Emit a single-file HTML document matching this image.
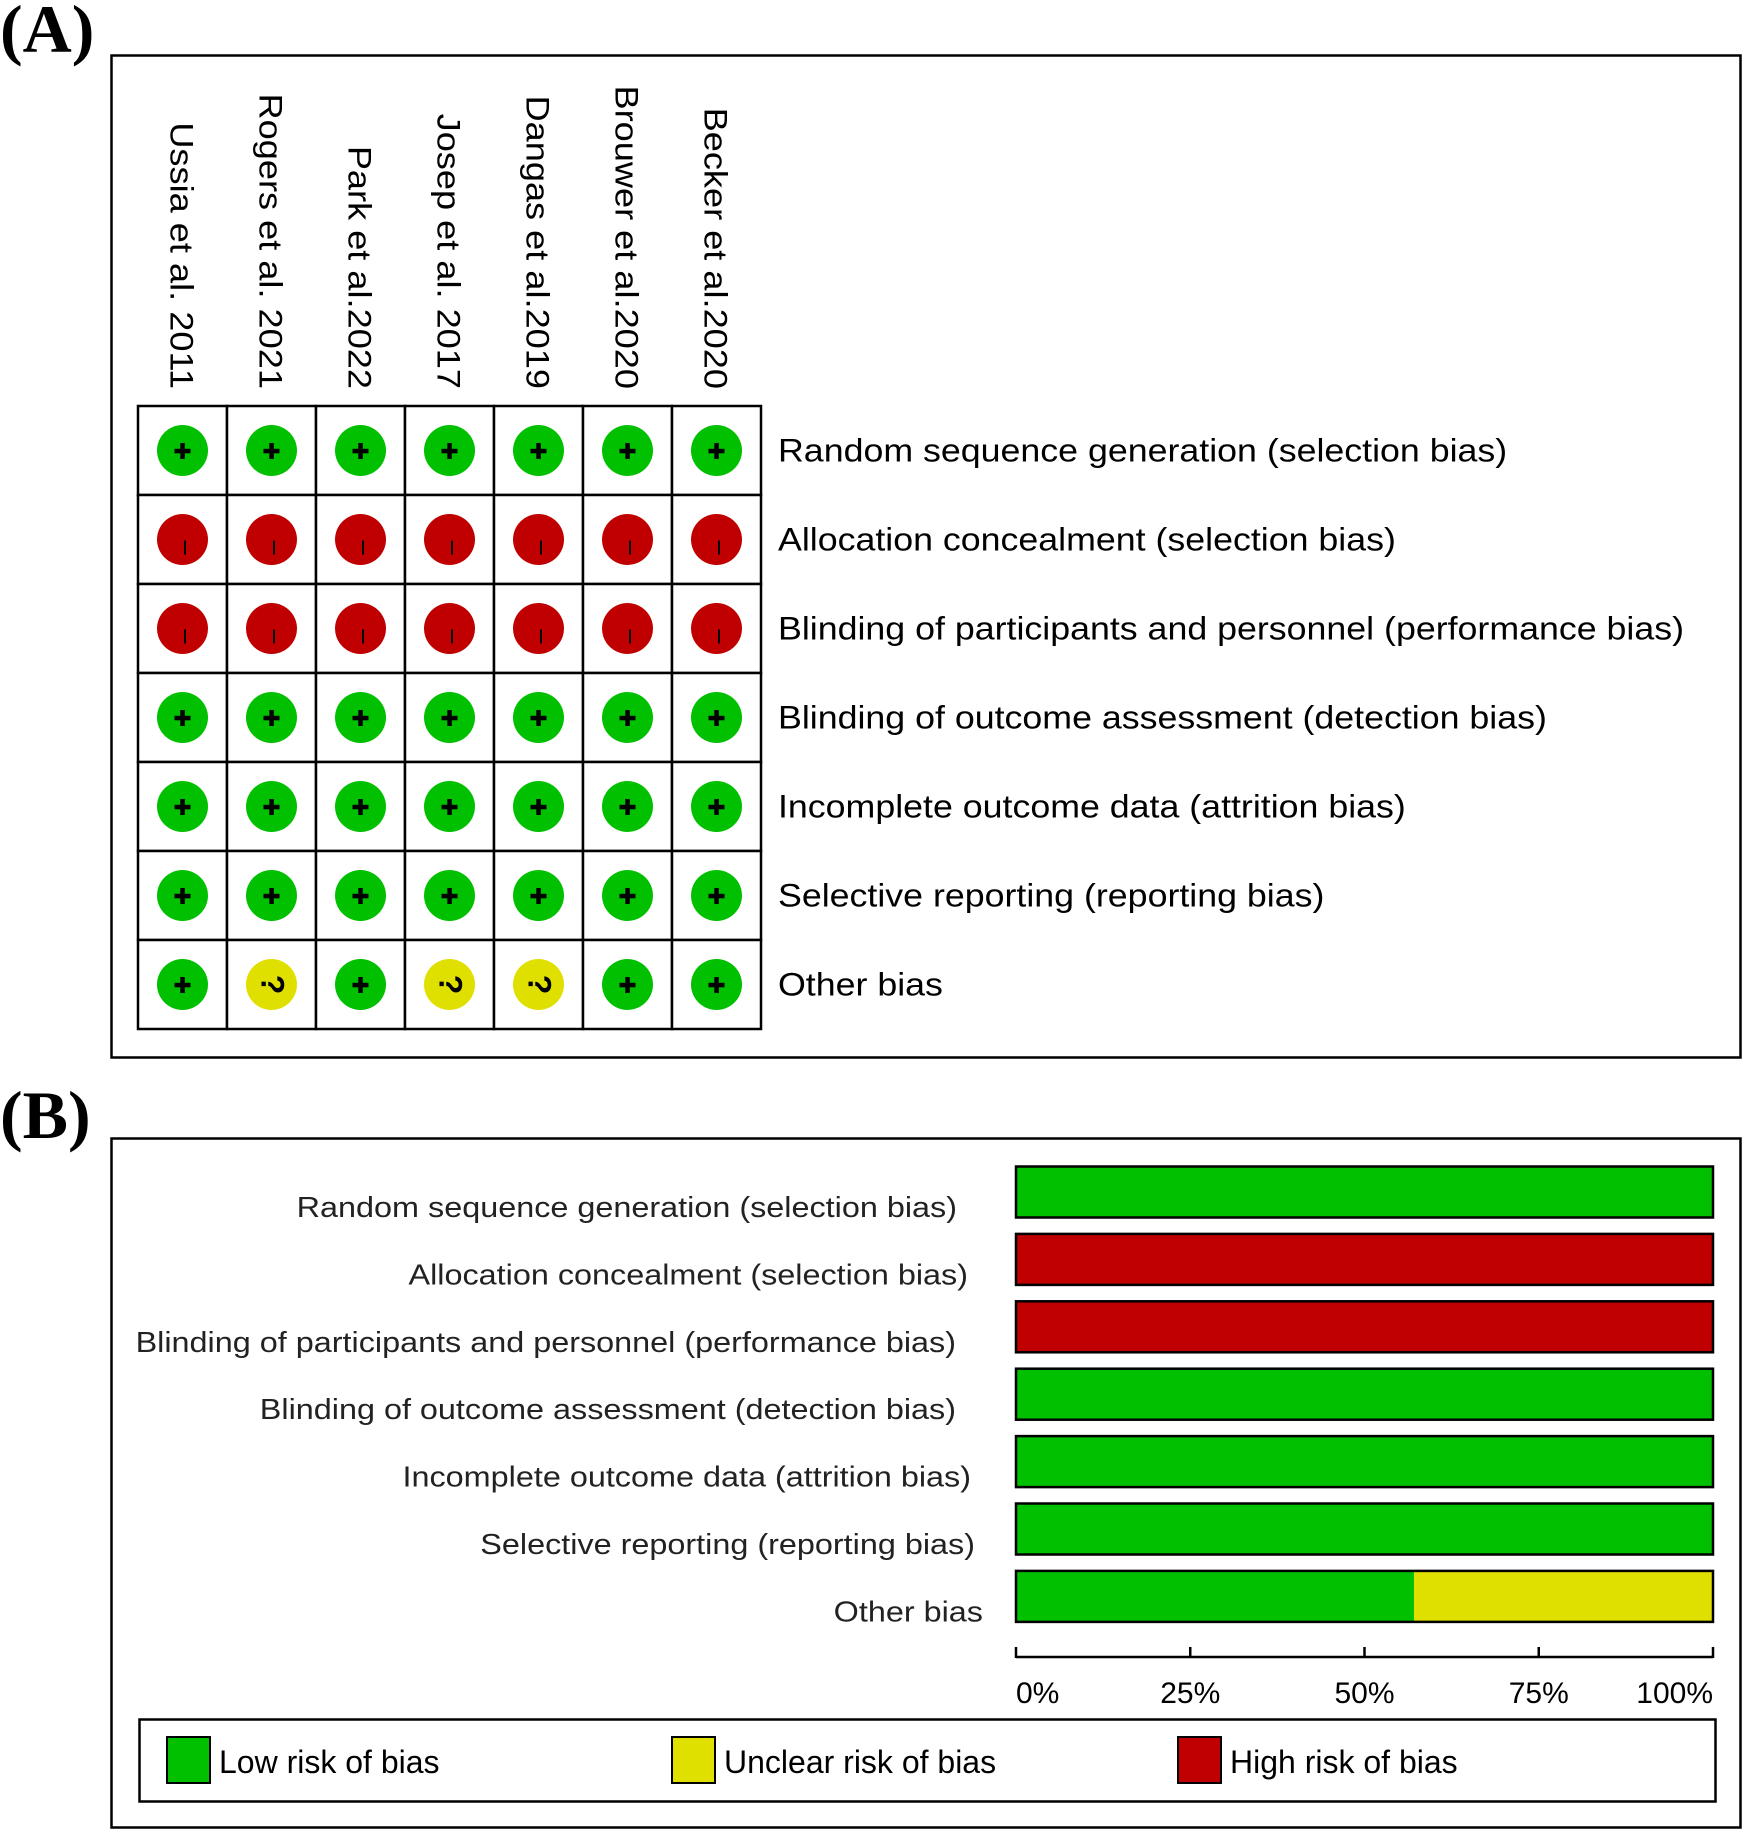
<!DOCTYPE html>
<html><head><meta charset="utf-8"><style>
html,body{margin:0;padding:0;background:#fff;}
svg{display:block;font-family:"Liberation Sans",sans-serif;}
</style></head><body>
<svg id="fig" width="1749" height="1833" viewBox="0 0 1749 1833" xmlns="http://www.w3.org/2000/svg">
<text x="0" y="52" font-family="Liberation Serif, serif" font-weight="bold" font-size="68">(A)</text>
<rect x="111.5" y="55.5" width="1629" height="1002" fill="none" stroke="#000" stroke-width="2.5"/>
<g id="gA"></g>
<text x="0" y="1138" font-family="Liberation Serif, serif" font-weight="bold" font-size="68">(B)</text>
<rect x="111.5" y="1138.5" width="1629" height="689" fill="none" stroke="#000" stroke-width="2.5"/>
<g id="gB"></g>
<rect x="139.5" y="1719.5" width="1576" height="82" fill="none" stroke="#000" stroke-width="2.5"/>
<rect x="167" y="1737" width="43" height="46" fill="#00c000" stroke="#000" stroke-width="2"/>
<text x="219" y="1773" font-size="32">Low risk of bias</text>
<rect x="672" y="1737" width="43" height="46" fill="#e0e000" stroke="#000" stroke-width="2"/>
<text x="724" y="1773" font-size="32">Unclear risk of bias</text>
<rect x="1178" y="1737" width="43" height="46" fill="#c00000" stroke="#000" stroke-width="2"/>
<text x="1230" y="1773" font-size="32">High risk of bias</text>
</svg>
<script>
const studies = ["Ussia et al. 2011","Rogers et al. 2021","Park et al.2022","Josep et al. 2017","Dangas et al.2019","Brouwer et al.2020","Becker et al.2020"];
const domains = ["Random sequence generation (selection bias)","Allocation concealment (selection bias)","Blinding of participants and personnel (performance bias)","Blinding of outcome assessment (detection bias)","Incomplete outcome data (attrition bias)","Selective reporting (reporting bias)","Other bias"];
const judgments = [
 ["+","+","+","+","+","+","+"],
 ["-","-","-","-","-","-","-"],
 ["-","-","-","-","-","-","-"],
 ["+","+","+","+","+","+","+"],
 ["+","+","+","+","+","+","+"],
 ["+","+","+","+","+","+","+"],
 ["+","?","+","?","?","+","+"]
];
const lowPct = [100,0,0,100,100,100,57.1];
const unclearPct = [0,0,0,0,0,0,42.9];
const highPct = [0,100,100,0,0,0,0];
const ticks = [0,25,50,75,100];
const tickLabels = ["0%","25%","50%","75%","100%"];
const labelRight = [957,968,956,956,971,975,983];

const NS="http://www.w3.org/2000/svg";
function mk(tag,attrs,parent,txt){const e=document.createElementNS(NS,tag);for(const k in attrs)e.setAttribute(k,attrs[k]);if(txt!==undefined)e.textContent=txt;parent.appendChild(e);return e;}
function widen(t,f){const w=t.getComputedTextLength();t.setAttribute('textLength',(w*f).toFixed(1));t.setAttribute('lengthAdjust','spacingAndGlyphs');}
const gA=document.getElementById('gA'), gB=document.getElementById('gB');
const gx0=138, gy0=406, cell=89;
const colX=i=>gx0+cell*i+cell/2, rowY=j=>gy0+cell*j+cell/2;
const col={"+":"#00c000","-":"#c00000","?":"#e0e000"};
studies.forEach((s,i)=>{
  const t=mk('text',{x:0,y:0,'font-size':32,'text-anchor':'end',transform:`translate(${colX(i)-12},389) rotate(90)`},gA,s);
  
  
  widen(t,1.13);
});
judgments.forEach((row,j)=>{
  row.forEach((v,i)=>{
    const cx=colX(i), cy=rowY(j);
    const r=mk('rect',{x:gx0+cell*i,y:gy0+cell*j,width:cell,height:cell,fill:'#fff',stroke:'#000','stroke-width':2.5},gA);
    
    
    const c=mk('circle',{cx:cx,cy:cy,r:25.5,fill:col[v]},gA);
    
    
    if(v==="+"){
      mk('rect',{x:cx-8,y:cy-1.7,width:16,height:4.5,fill:'#000'},gA);
      mk('rect',{x:cx-2.2,y:cy-7.5,width:4.5,height:16,fill:'#000'},gA);
    }else if(v==="-"){
      mk('rect',{x:cx+1.5,y:cy+1,width:2,height:14,fill:'#000'},gA);
    }else{
      mk('text',{x:0,y:0,'font-size':32,'font-weight':'bold','text-anchor':'middle',transform:`translate(${cx-10},${cy}) rotate(90)`},gA,"?");
    }
  });
});
domains.forEach((d,j)=>{
  const t=mk('text',{x:778,y:rowY(j)+11,'font-size':32},gA,d);
  
  
  widen(t,1.117);
});
// Panel B
const bx0=1016, bx1=1713, xs=p=>bx0+(bx1-bx0)*p/100;
const by0=1192, bpitch=67.4, bh=51, barY=j=>by0+bpitch*j;
domains.forEach((d,j)=>{
  const y=barY(j)-bh/2;
  let acc=0;
  [[lowPct[j],"#00c000"],[unclearPct[j],"#e0e000"],[highPct[j],"#c00000"]].forEach(([p,f])=>{
    if(p>0){
      const r=mk('rect',{x:xs(acc),y:y,width:xs(acc+p)-xs(acc),height:bh,fill:f},gB);
      
      
    }
    acc+=p;
  });
  mk('rect',{x:bx0,y:y,width:bx1-bx0,height:bh,fill:'none',stroke:'#000','stroke-width':2.5},gB);
  const t=mk('text',{x:labelRight[j],y:barY(j)+25,'font-size':29,'text-anchor':'end',fill:'#222'},gB,d);
  
  
  widen(t,1.116);
});
const ax=mk('line',{x1:bx0,x2:bx1,y1:1657,y2:1657,stroke:'#000','stroke-width':2.5},gB);


ticks.forEach((tv,k)=>{
  mk('line',{x1:xs(tv),x2:xs(tv),y1:1647,y2:1658,stroke:'#000','stroke-width':2.5},gB);
  const anchor=k===0?'start':(k===ticks.length-1?'end':'middle');
  const t=mk('text',{x:xs(tv),y:1703,'font-size':30,'text-anchor':anchor},gB,tickLabels[k]);
  
  
});
</script>
</body></html>
